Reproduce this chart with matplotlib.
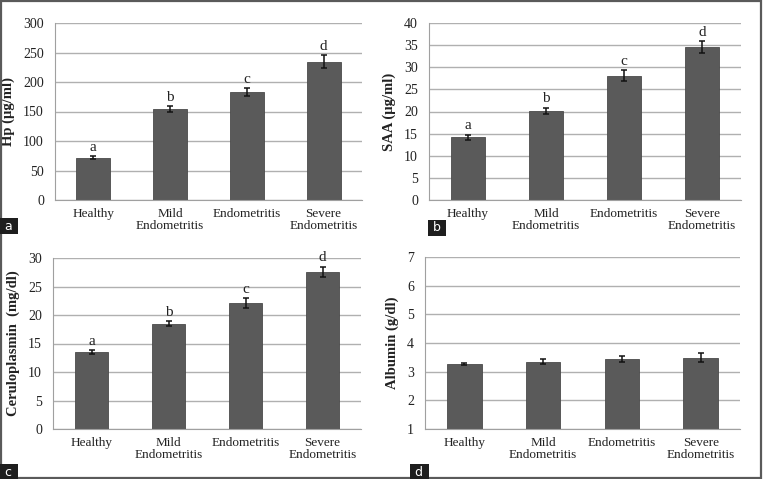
import matplotlib.pyplot as plt
import numpy as np

groups = ["Healthy", "Mild\nEndometritis", "Endometritis", "Severe\nEndometritis"]
letters = ["a", "b", "c", "d"]

hp_mean = [72, 154, 183, 234]
hp_err = [3, 5, 7, 11]
saa_mean = [14.2, 20.2, 28.1, 34.6]
saa_err = [0.6, 0.7, 1.2, 1.3]
cp_mean = [13.5, 18.5, 22.1, 27.6]
cp_err = [0.4, 0.4, 0.8, 0.9]
alb_mean = [3.27, 3.35, 3.44, 3.48]
alb_err = [0.02, 0.08, 0.10, 0.16]

plt.rcParams["font.family"] = ["Liberation Serif", "DejaVu Serif"]

W, H = 763, 479
fig = plt.figure(figsize=(W / 100, H / 100), dpi=100)
fig.patch.set_facecolor("white")

def ax_px(x0, y0, x1, y1):
    # pixel box (top-left origin) -> figure fraction
    return fig.add_axes([x0 / W, 1 - y1 / H, (x1 - x0) / W, (y1 - y0) / H])

panels = [
    # box, mean, err, ylim, step, ylabel, sig letters, panel tag, tag pos
    ((55, 23, 362, 200), hp_mean, hp_err, (0, 300), 50, "Hp (µg/ml)", True, "a", (1, 220)),
    ((429, 23, 741, 200), saa_mean, saa_err, (0, 40), 5, "SAA (µg/ml)", True, "b", (429, 222)),
    ((53, 258, 361, 429), cp_mean, cp_err, (0, 30), 5, "Ceruloplasmin  (mg/dl)", True, "c", (1, 466)),
    ((425, 257, 740, 429), alb_mean, alb_err, (1, 7), 1, "Albumin (g/dl)", False, "d", (411, 466)),
]

x = np.arange(len(groups))
for box, mean, err, ylim, step, ylabel, sig, tag, tpos in panels:
    ax = ax_px(*box)
    ax.set_axisbelow(True)
    ax.bar(x, np.array(mean) - ylim[0], bottom=ylim[0], width=0.44, color="#5a5a5a",
           edgecolor="#4a4a4a", linewidth=0.6, zorder=2)
    ax.errorbar(x, mean, yerr=err, fmt="none", ecolor="#111111", elinewidth=1.1,
                capsize=2.5, capthick=1.1, zorder=3)
    if sig:
        span = ylim[1] - ylim[0]
        for xi, m, e, lt in zip(x, mean, err, letters):
            ax.text(xi, m + e + span * 0.012, lt, ha="center", va="bottom", fontsize=11,
                    color="#222222")
    ax.set_xlim(-0.5, 3.5)
    ax.set_ylim(*ylim)
    ax.set_yticks(np.arange(ylim[0], ylim[1] + step / 2, step))
    ax.set_xticks(x)
    ax.set_xticklabels(groups, fontsize=9.5, color="#222222", linespacing=1.0)
    ax.tick_params(axis="y", labelsize=10, labelcolor="#222222", length=0, pad=8)
    ax.tick_params(axis="x", length=0, pad=6)
    ax.yaxis.grid(True, color="#b0b0b0", linewidth=1.0)
    for s in ["top", "right"]:
        ax.spines[s].set_visible(False)
    ax.spines["left"].set_color("#a0a0a0")
    ax.spines["bottom"].set_color("#a0a0a0")
    ax.set_ylabel(ylabel, fontsize=10.5, fontweight="bold", color="#222222", labelpad=6)
    # panel tag
    fig.text(tpos[0] / W, 1 - (tpos[1] + 6) / H, f" {tag} ", fontsize=9, color="white",
             family="DejaVu Sans", va="center", ha="left",
             bbox=dict(boxstyle="square,pad=0.12", facecolor="#1e1e1e", edgecolor="none"))

# outer border
fig.add_artist(plt.Rectangle((0.001, 0.002), 0.997, 0.996, fill=False,
                             edgecolor="#5a5a5a", linewidth=1.6, transform=fig.transFigure))

fig.savefig("out.png", dpi=100)
